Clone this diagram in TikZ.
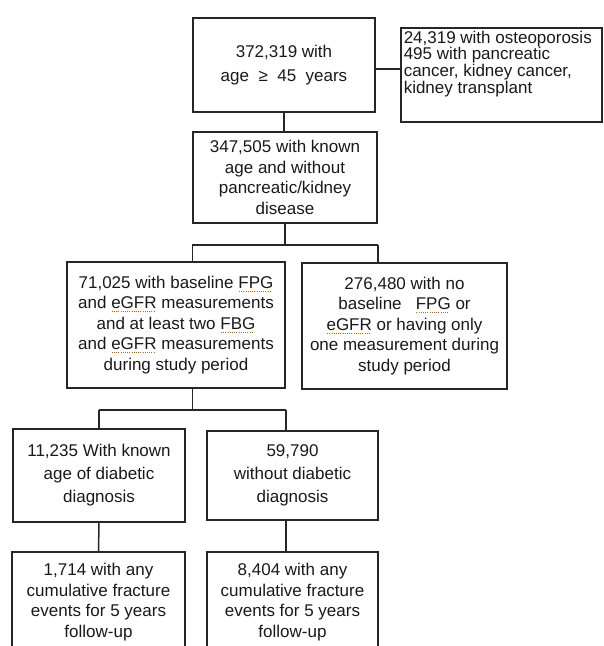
\documentclass[tikz,border=0pt]{standalone}
\usepackage{fontspec}
\setmainfont{Liberation Sans}
\usepackage{xcolor}
\usepackage{tikz}

\newsavebox\spellbox
\newcommand\spellmark[1]{\sbox\spellbox{#1}\rlap{\color{orange!80!black}\raisebox{-3.5pt}{\leaders\hbox to 2.2pt{\hss\rule{1pt}{1pt}\hss}\hskip\wd\spellbox}}\usebox\spellbox}

\begin{document}
\begin{tikzpicture}[x=1pt,y=-1pt,
  flowbox/.style={draw=black!85,line width=1.5pt,align=center,inner sep=2pt,
    text=black!90,font=\fontsize{17}{20.5}\selectfont},
  link/.style={draw=black!85,line width=1.5pt}]
  \useasboundingbox (0,0) rectangle (604,646);
  \node[flowbox,minimum width=182,minimum height=94] (A) at (284,65)
    {372,319 with\\[4pt]age \ ≥ \ 45 \ years};
  \node[flowbox,anchor=north west,inner sep=3pt,font=\fontsize{17}{16.8}\selectfont] (B) at (400,27)
    {\parbox[t][88pt][t]{195pt}{\raggedright 24,319 with osteoporosis\\495 with pancreatic\\cancer, kidney cancer,\\kidney transplant}};
  \node[flowbox,minimum width=184,minimum height=91] (C) at (285,177.5)
    {347,505 with known\\age and without\\pancreatic/kidney\\disease};
  \node[flowbox,minimum width=218,minimum height=126] (D) at (176,325)
    {71,025 with baseline \spellmark{FPG}\\and \spellmark{eGFR} measurements\\and at least two \spellmark{FBG}\\and \spellmark{eGFR} measurements\\during study period};
  \node[flowbox,minimum width=205,minimum height=126] (E) at (404.5,326)
    {276,480 with no\\baseline \ \ \spellmark{FPG} or\\\spellmark{eGFR} or having only\\one measurement during\\study period};
  \node[flowbox,minimum width=172,minimum height=93,font=\fontsize{17}{23}\selectfont] (F) at (99,475.5)
    {11,235 With known\\age of diabetic\\diagnosis};
  \node[flowbox,minimum width=171,minimum height=89,font=\fontsize{17}{23}\selectfont] (G) at (292.5,475.5)
    {59,790\\without diabetic\\diagnosis};
  \node[flowbox,minimum width=173,minimum height=100] (H) at (98.5,602)
    {1,714 with any\\cumulative fracture\\events for 5 years\\follow-up};
  \node[flowbox,minimum width=171,minimum height=100] (I) at (292.5,602)
    {8,404 with any\\cumulative fracture\\events for 5 years\\follow-up};
  % connectors
  \draw[link] ([yshift=-4pt]A.east) -- ([yshift=-4pt]A.east -| B.west);
  \draw[link] (A.south) -- (A.south |- C.north);
  \draw[link] (C.south) -- ++(0,21) coordinate (jCD);
  \draw[link] (jCD -| C.west) -- (jCD -| C.east);
  \draw[link] (jCD -| C.west) -- (D.north -| C.west);
  \draw[link] (jCD -| C.east) -- (E.north -| C.east);
  \draw[link] (D.south -| C.west) -- ++(0,21) coordinate (jFG);
  \draw[link] (jFG -| F.north) -- (jFG -| D.east);
  \draw[link] (jFG -| F.north) -- (F.north);
  \draw[link] (jFG -| D.east) -- (G.north -| D.east);
  \draw[link] (F.south) -- (H.north);
  \draw[link] (G.south -| D.east) -- (I.north -| D.east);
\end{tikzpicture}
\end{document}
